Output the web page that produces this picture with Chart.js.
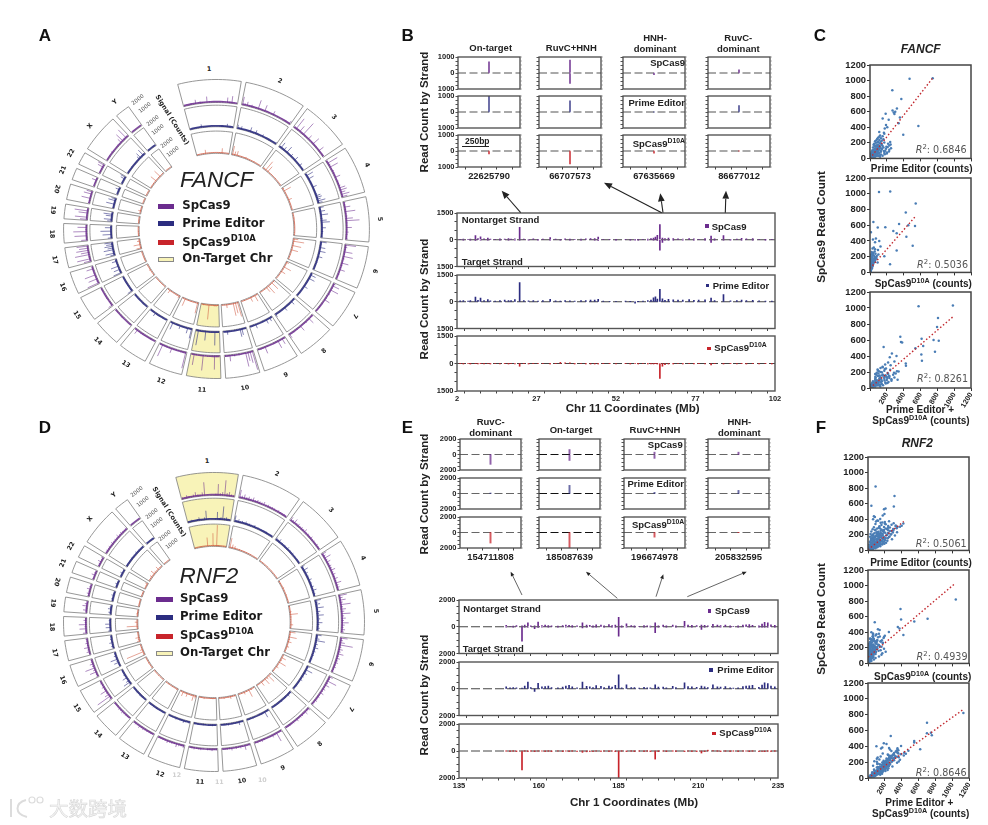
<!DOCTYPE html>
<html>
<head>
<meta charset="utf-8">
<title>FANCF and RNF2 off-target panels</title>
<script src="https://cdn.jsdelivr.net/npm/chart.js@4"></script>
<style>
  html, body { margin: 0; background: #fff; }
  #page { position: relative; width: 988px; height: 825px; overflow: hidden; background: #fff; }
  #page canvas, #page svg { position: absolute; }
  .t { position: absolute; white-space: nowrap; font-family: "Liberation Sans", Arial, sans-serif; color: #222; line-height: 1; }
  .t sup { font-size: .72em; line-height: 0; }
</style>
</head>
<body>
<div id="page"></div>
<script>
// chromosomes, sizes in Mb
const chromNames = ['1','2','3','4','5','6','7','8','9','10','11','12','13','14','15','16','17','18','19','20','21','22','X','Y'];
const chromSizes = [249,243,198,191,181,171,159,146,141,135,135,133,115,107,102,90,81,78,59,63,48,51,155,59];

// circos signal per chromosome (counts, evenly spread along the chromosome)
const fancfSp = [
  [90,130,70,150,70,420,100,190,120,80,600,150,40,0,0,0,0,130,100,520,140,700,120,90],
  [800,210,420,120,240,110,160,900,130,100,650,130,140,90,420,100,150,80,130,90,150,70,380],
  [180,1250,160,700,130,1450,120,110,500,100,130,800,110,150,90,600,80,120,100],
  [130,1100,210,880,150,220,180,140,560,120,190,160,220,620,700,480,820,560],
  [220,160,600,180,1000,140,210,700,1300,190,150,560,140,260,170,120,210],
  [1050,260,190,820,150,950,210,120,700,190,140,560,130,180,110,150],
  [240,720,170,850,130,210,110,190,600,100,150,120,170,110,140],
  [170,120,650,110,210,140,100,600,120,170,80,150,110,480],
  [150,620,110,800,100,120,0,0,110,720,160,190,120],
  [1900,1150,900,1400,120,110,170,100,210,110,620,120,170],
  [110,160,1350,110,130,170,100,1500,120,110,140,1100,110],
  [1600,120,170,110,100,160,520,110,140,120,1250,120],
  [70,50,130,80,100,150,130,170,120,500,130],
  [30,40,50,60,90,130,100,80,130,110],
  [480,120,150,100,170,120,150,80,120,70],
  [1200,170,900,120,1100,150,120,700,100],
  [700,1300,200,1400,800,1200,900,1100],
  [600,90,1200,150,1300,170,900,120],
  [700,1200,170,900,1300,120],
  [190,120,900,150,800,600],
  [40,0,120,500,150],
  [40,80,170,600,700],
  [80,100,150,70,210,120,100,150,170,120,500,900,150,1100,120],
  [60,40]
];
const fancfPe = [
  [90,110,70,130,90,70,350,100,80,130,110,60,30,0,0,0,100,120,90,130,350,110,130,100],
  [420,130,350,110,130,90,110,520,100,90,420,100,80,70,280,90,100,70,90,80,100,60,260],
  [130,700,110,450,110,800,100,90,350,80,110,500,90,110,80,400,70,90,80],
  [120,800,170,650,130,170,150,130,500,110,160,130,190,520,600,420,850,500],
  [500,130,560,170,800,130,190,600,900,160,130,480,130,220,150,110,180],
  [650,190,160,600,130,700,170,110,520,170,130,190,120,150,100,130],
  [180,620,140,700,120,170,100,160,480,90,130,110,150,100,130],
  [130,110,480,100,170,130,90,450,110,140,80,130,100,380],
  [130,450,100,500,90,110,0,0,90,480,130,140,110],
  [150,120,700,850,110,100,150,90,160,100,420,110,140],
  [110,140,1450,100,120,160,90,1000,120,100,130,1600,110],
  [1050,130,620,100,90,140,420,110,130,120,800,120],
  [100,70,150,90,110,170,130,450,120,130,130],
  [40,50,70,80,100,130,110,80,120,100],
  [600,130,160,110,170,120,140,90,120,80],
  [900,150,700,120,850,130,120,550,100],
  [500,950,170,1050,620,900,700,850],
  [450,70,950,130,1150,150,700,110],
  [500,850,130,700,950,110],
  [160,120,900,130,780,520],
  [50,0,120,450,130],
  [40,70,150,500,620],
  [70,90,130,60,160,110,90,130,140,100,400,650,130,780,110],
  [50,30]
];
const fancfD10a = [
  [60,40,80,50,420,60,40,0,0,0,50,70,520,60,40,80],
  [900,400,500,80,120,60,200,80,60,50,120,60,80,50],
  [150,1100,700,80,60,50,120,60,40,80],
  [200,800,100,60,120,400,80,60,50,90],
  [60,40,120,50,80,40,60,50,90,40],
  [500,1100,80,900,60,700,50,80,40,60],
  [300,80,800,120,500,60,80,40],
  [200,900,120,1000,600,80,60,50],
  [150,700,80,500,60,40,120,50],
  [1500,1100,1300,80,60,400,60,50],
  [120,200,180,60,80,1500,100,60,160,50],
  [1100,80,60,120,90,60,800,50],
  [300,120,80,60,100,400,60],
  [80,120,60,90,50,60],
  [100,60,200,50,80],
  [60,120,80,40,100],
  [500,80,700,100,300,60],
  [100,60,120,40,80],
  [50,80,30,60],
  [40,300,60,80],
  [30,50,40],
  [40,30,60],
  [80,60,120,50,700,60,80,800,60,40],
  [20]
];
const rnf2Sp = [
  [200,150,300,170,120,250,450,200,150,350,1300,90,0,0,0,180,1100,240,350,1500,300,420,220,180],
  [800,280,450,250,350,220,400,200,300,240,210,350,180,260,170,230,200,150,240,170,140,200,120],
  [420,250,500,210,320,170,260,210,400,190,240,180,300,170,210,140,240,170,140],
  [500,280,700,230,430,210,300,250,500,220,340,210,400,190,600,250,300,190],
  [800,350,600,280,1000,250,500,320,900,280,430,250,700,320,220,380,280],
  [700,280,500,1300,250,430,280,600,220,380,250,320,190,280,170,220],
  [400,220,1000,250,500,190,320,220,400,170,250,190,300,170,220],
  [300,190,400,170,250,220,170,320,150,220,170,190,140,170],
  [220,170,950,190,300,140,0,0,170,250,190,220,170],
  [190,140,500,170,250,150,220,140,300,170,190,150,170],
  [170,140,250,150,190,0,140,220,170,150,230,170,140],
  [300,190,250,400,170,220,190,300,170,190,150,170],
  [170,190,140,220,170,250,190,300,170,220,190],
  [110,170,190,220,300,190,250,170,140,170],
  [300,1500,500,220,700,190,300,170,220,140],
  [220,190,700,300,1000,250,400,220,190],
  [170,350,220,500,190,300,170,220],
  [400,170,700,220,750,190,300,170],
  [140,400,190,500,300,170],
  [170,300,190,400,220,170],
  [170,110,400,220,170],
  [140,220,400,170,300],
  [170,220,190,250,170,300,190,230,170,350,220,280,190,170,250],
  [80,40]
];
const rnf2Pe = [
  [170,110,230,140,100,200,350,170,120,280,950,70,0,0,0,140,800,190,280,1400,240,320,180,140],
  [650,230,350,200,280,170,320,160,240,190,170,280,140,200,140,180,160,120,190,140,110,160,100],
  [320,200,400,170,250,140,200,170,320,150,190,140,240,130,170,110,190,140,110],
  [400,220,560,190,340,170,240,200,400,180,270,170,320,150,480,200,240,150],
  [640,280,480,220,800,200,400,250,720,220,340,200,560,250,170,300,220],
  [560,220,400,1000,200,340,220,480,170,300,200,250,150,220,140,170],
  [320,170,800,200,400,150,250,170,320,140,200,150,240,130,170],
  [240,150,320,130,200,170,130,250,120,170,130,150,110,130],
  [170,130,700,150,240,110,0,0,130,200,150,170,130],
  [150,110,400,130,200,120,170,110,240,130,150,120,130],
  [130,110,200,120,150,0,110,170,130,120,190,130,110],
  [240,150,200,320,130,170,150,240,130,150,120,130],
  [130,150,110,170,130,200,150,240,130,170,150],
  [90,130,150,170,240,150,200,130,110,130],
  [240,800,400,170,560,150,240,130,170,110],
  [170,150,560,240,800,200,320,170,150],
  [130,280,170,400,150,240,130,170],
  [320,130,560,170,600,150,240,130],
  [110,320,150,400,240,130],
  [130,240,150,320,170,130],
  [130,90,320,170,130],
  [110,170,320,130,240],
  [130,170,150,200,130,240,150,180,130,280,170,220,150,130,200],
  [60,30]
];
const rnf2D10a = [
  [60,80,50,100,60,80,40,900,0,0,1300,60,2100,120,80,60,100,50],
  [1000,400,300,100,150,80,120,100,80,120,60,80,50],
  [100,80,60,120,50,80,60,40,70],
  [150,120,80,200,100,60,140,80,100,60],
  [120,80,200,800,150,100,80,300,100],
  [600,150,800,200,400,100,300,120,80],
  [100,500,200,800,120,300,80,100],
  [150,850,300,700,120,500,80,100],
  [100,200,800,150,300,100,80],
  [150,100,300,120,80,200,100,60],
  [100,150,120,80,100,200,120,100],
  [300,600,150,100,400,120,500,80],
  [200,100,150,80,120,100],
  [100,80,120,60,90],
  [120,80,150,100,60],
  [200,1800,300,120,100],
  [300,200,400,120,80,100],
  [80,1100,100,300,60],
  [80,200,100,60],
  [60,100,80,120],
  [100,60,120],
  [80,120,300],
  [100,150,300,120,500,200,100,400,150,120],
  [30]
];

// chr 11 track (panel B)
const chr11Mb = [3,4,5.5,6.2,7.8,8.6,9.4,10.5,11.7,12.5,
  14,15.5,17,18.2,19,20.2,21.7,23,24.5,26,
  27.5,29,31.3,33,34.5,36,37.5,39,41,42.5,
  44,45.3,46.4,48,50,52,55,56.5,58,59,
  60.5,62,63,63.8,64.4,65,65.8,66.6,67.4,68.5,
  70,71.5,73,75,76.5,78,80,81.9,83,85.8,
  88,90,91.5,93,95,97,99,101];
const chr11Sp = [30,40,30,40,230,60,170,50,100,40,
  30,50,40,60,40,50,700,40,30,50,
  30,40,120,40,30,50,40,30,40,50,
  70,60,150,30,0,20,30,0,20,0,
  30,40,60,100,150,250,850,100,60,90,
  60,50,40,70,50,30,60,200,50,230,
  30,40,80,50,60,30,20,30];
const chr11SpNeg = [0,-20,0,-30,-40,0,-30,0,-20,0,
  0,-15,0,-20,0,-15,-30,0,-15,0,
  -10,0,-20,0,-15,0,-10,0,-15,0,
  0,-20,-40,0,0,-10,0,-10,-15,-10,
  0,-10,0,-20,0,-40,-590,-150,-30,-20,
  -10,0,-15,0,-20,0,-10,-150,-10,-15,
  -10,0,-20,0,-15,0,-10,0];
const chr11Pe = [50,60,40,70,260,80,200,60,120,50,
  40,60,90,70,60,120,1080,60,50,70,
  40,60,130,50,40,70,50,40,60,70,
  90,100,130,40,0,30,40,10,-80,10,
  40,60,90,220,280,150,700,160,80,130,
  110,90,100,120,80,90,110,200,70,400,
  50,60,100,70,80,50,40,40];
const chr11D10a = [0,-20,0,-15,0,-20,0,-10,0,-15,
  0,-15,0,-10,0,-20,-150,0,-15,0,
  0,0,-10,0,60,40,30,-10,0,-15,
  -30,-15,-20,0,0,-15,0,-10,0,-5,
  0,-15,-10,-20,0,-30,-810,-150,-60,-30,
  -10,0,-15,0,-10,0,-15,-80,0,-20,
  0,-15,0,-10,0,-15,0,-10];

// chr 1 track (panel E)
const chr1Mb = [149.8,151,152,153,154.75,155.6,156.6,157.5,158.7,159.8,
  161,162,163,164,166,167.5,168.5,169.5,170.5,172,
  173.7,175,176,177,178,179.5,180.5,182,183,184,
  185.05,186,187.5,189,190,191.5,193,194,195,196.5,
  197.5,199,200,202,203,205.7,206.8,208,209.5,211,
  212,213,214.6,216,217,218.5,220,221,222.5,224,
  225,226,227,229,230,230.8,231.8,232.8,234];
const chr1Sp = [100,40,50,80,60,120,300,70,60,350,
  90,120,80,70,50,90,120,100,80,60,
  300,130,100,60,150,120,70,160,80,120,
  700,60,220,80,70,40,90,60,50,300,
  70,120,60,130,70,400,120,100,80,130,
  100,60,180,120,90,120,60,40,60,130,
  140,170,100,60,200,330,300,150,100];
const chr1SpNeg = [-30,0,-15,0,-1080,-30,-40,0,-150,-50,
  -20,0,-15,0,-10,0,-20,0,-15,0,
  -80,-20,0,-15,-10,0,-20,0,-15,-20,
  -700,-15,-30,0,-15,0,-20,0,-15,-450,
  -20,0,-15,0,-20,-30,0,-15,0,-200,
  -30,0,-20,0,-15,0,-10,0,-15,0,
  0,-15,0,-10,-15,-30,-20,0,-15];
const chr1Pe = [150,60,90,60,50,200,500,90,-200,400,
  150,170,200,80,70,130,200,250,150,60,
  500,180,150,90,230,180,90,200,130,250,
  1050,60,300,80,90,50,110,60,60,300,
  120,130,70,180,90,450,170,150,110,200,
  150,80,300,150,130,170,70,50,70,170,
  200,220,250,100,280,450,380,200,150];
const chr1D10a = [0,-10,0,-10,-1400,0,-15,0,-10,0,
  0,-10,0,-10,0,-15,0,-10,0,-20,
  -100,-60,-30,-20,0,-15,0,-10,0,-20,
  -2000,0,-15,0,-10,0,-15,0,-10,-600,
  -10,0,-15,0,-10,-20,0,-10,-15,-150,
  -30,60,40,0,-15,0,-10,0,-10,0,
  0,-15,0,-30,-40,-20,0,-10,0];

// per-site read counts in the small panels: [top strand, bottom strand], rows SpCas9, PE, D10A
const fancfSites = ['22625790','66707573','67635669','86677012'];
const fancfSiteTitles = [['On-target'],['RuvC+HNH'],['HNH-','dominant'],['RuvC-','dominant']];
const fancfSiteSp = [[700,0],[800,-650],[0,-100],[200,0]];
const fancfSitePe = [[1000,0],[700,0],[0,0],[400,0]];
const fancfSiteD10a = [[0,-180],[0,-800],[0,-130],[0,0]];
const rnf2Sites = ['154711808','185087639','196674978','205832595'];
const rnf2SiteTitles = [['RuvC-','dominant'],['On-target'],['RuvC+HNH'],['HNH-','dominant']];
const rnf2SiteSp = [[0,-1270],[640,-770],[300,-500],[300,0]];
const rnf2SitePe = [[50,0],[1050,0],[150,0],[400,0]];
const rnf2SiteD10a = [[0,-1360],[0,-2000],[0,-600],[0,0]];

// scatter counts, SpCas9 shared between the three plots of a panel
const fancfScatterSp = [1030,1022,875,762,640,615,600,590,575,570,
  525,512,498,452,430,418,400,385,340,330,
  318,305,295,285,277,265,258,250,245,238,
  232,228,220,215,210,205,200,196,190,186,
  180,175,170,166,160,155,150,146,140,135,
  130,126,120,115,110,105,103,96,92,88,
  84,80,76,72,68,64,60,56,52,48,
  45,42,38,35,32,28,25,22,18,15,
  12,8,5,90,70,50,40,130,180,100,
  210,30,20,62,148,
  20,35,55,75,95,110,125,60,40,30,
  85,150,165,190,115,70,45,25,15,10,
  50,65,80,100,120,140,160,35,55,75,
  95,115,135,155,175];
const fancfScatterPe = [745,470,265,372,320,268,300,282,186,290,
  355,150,222,340,190,575,205,175,110,165,
  170,395,120,150,110,95,130,85,160,110,
  75,140,60,125,95,170,70,115,50,135,
  88,42,102,68,150,55,80,120,35,98,
  62,140,72,45,105,28,90,60,38,82,
  20,55,95,30,48,15,40,70,25,12,
  35,55,18,8,28,14,42,6,20,10,
  3,5,1,225,170,130,115,250,245,180,
  240,80,60,200,210,
  120,150,175,200,165,230,190,95,70,100,
  130,195,230,215,140,110,85,50,35,25,
  60,75,100,125,105,160,115,22,30,50,
  70,85,120,90,140];
const fancfScatterD10a = [240,107,543,425,40,345,455,535,182,92,
  277,12,317,432,70,35,110,60,507,125,
  45,30,60,95,317,55,20,40,30,65,
  15,100,35,45,10,170,55,25,30,75,
  12,20,48,8,35,60,15,55,28,22,
  5,90,40,18,10,35,238,12,25,6,
  15,30,4,8,20,10,3,25,14,6,
  2,18,9,4,12,1,7,10,3,0,
  5,2,0,30,12,10,5,40,60,20,
  80,3,2,8,16,
  2,5,12,20,8,25,15,5,3,8,
  10,35,45,70,30,20,10,0,1,0,
  2,8,15,12,22,38,40,5,6,14,
  18,35,50,55,75];
const fancfScatterBoth = [985,577,808,797,360,613,755,817,368,382,
  632,162,539,772,260,610,315,235,617,290,
  215,425,180,245,427,150,150,125,190,175,
  90,240,95,170,105,340,125,140,80,210,
  100,62,150,76,185,115,95,175,63,120,
  67,230,112,63,115,63,328,72,63,88,
  35,85,99,38,68,25,43,95,39,18,
  37,73,27,12,40,15,49,16,23,10,
  8,7,1,255,182,140,120,290,305,200,
  320,83,62,208,226,
  122,155,187,220,173,255,205,100,73,108,
  140,230,275,285,170,130,95,50,36,25,
  62,83,115,137,127,198,155,27,36,64,
  88,120,170,145,215];
const rnf2ScatterSp = [820,698,573,565,540,530,468,447,440,428,
  405,400,385,364,340,380,372,360,350,345,
  335,325,318,310,305,298,290,285,280,272,
  268,262,258,252,248,242,238,232,228,222,
  218,212,208,204,200,196,192,188,184,180,
  176,172,168,164,160,156,152,148,144,140,
  136,132,128,124,120,116,112,108,104,100,
  97,94,90,87,84,81,78,75,72,69,
  66,63,60,57,54,51,48,45,42,39,
  36,33,30,27,24,21,18,15,12,9,
  6,3,245,235,225,215,205,195,185,175,
  165,155,145,135,125,115,105,95,85,75,
  65,55,45,35,290,275,265,255,320,300,
  10,15,20,25,30,35,40,45,50,55,
  60,65,70,75,80,85,90,95,100,105,
  110,115,120,125,130,135,140,145,150,155,
  160,165,170,175,180,185,190,195,200,205,
  210,215,220,225,230,235,240,250,255,260,
  270,275,280,285,295,300,310,315,330,345,
  355,375,30,50,70,90,110,130,150,170,190];
const rnf2ScatterPe = [90,315,40,307,208,190,195,175,70,82,
  145,60,110,200,88,120,95,170,305,420,
  210,160,400,135,380,70,240,340,110,55,
  300,190,85,150,260,40,125,345,205,75,
  160,30,275,115,225,60,320,140,95,185,
  25,250,130,70,210,45,165,105,285,80,
  195,35,145,230,65,120,175,22,90,215,
  50,150,110,195,30,75,135,170,15,60,
  100,125,40,85,145,18,55,95,110,30,
  70,10,48,88,22,35,60,8,25,40,
  5,12,180,100,240,130,55,170,120,85,
  155,200,120,70,100,145,130,75,100,45,
  80,120,65,20,130,225,90,300,330,350,
  20,30,50,15,70,45,90,30,110,65,
  130,40,95,150,60,120,175,90,140,50,
  190,75,165,110,205,140,60,180,100,235,
  130,80,195,120,255,160,90,220,140,270,
  175,105,240,150,295,190,120,280,170,240,
  160,300,210,140,260,190,330,240,280,200,
  150,250,12,25,35,40,30,50,35,60,45];
const rnf2ScatterD10a = [1043,386,708,393,550,80,354,374,118,138,
  248,40,60,420,190,130,60,90,55,60,
  120,185,30,40,70,165,60,85,150,95,
  45,175,30,100,20,65,130,35,50,140,
  25,45,90,80,15,110,25,55,20,75,
  85,10,40,125,30,15,60,95,5,35,
  20,70,45,12,90,8,30,50,60,18,
  25,5,40,12,65,15,28,3,35,10,
  50,2,20,8,22,30,5,15,35,2,
  10,20,6,1,12,4,14,3,6,0,
  2,1,40,35,70,160,50,8,100,55,
  15,45,25,55,70,15,30,40,18,48,
  25,10,30,28,110,30,175,15,25,40,
  8,5,10,20,12,25,8,30,10,15,
  6,35,20,5,40,15,8,25,20,60,
  10,45,20,30,5,25,80,30,65,10,
  40,85,15,60,8,30,100,20,70,12,
  40,110,25,80,10,50,120,20,90,35,
  100,25,75,150,50,110,30,70,60,140,
  200,100,40,70,90,130,160,170,210,150,190];
const rnf2ScatterBoth = [1133,701,748,700,758,270,549,549,188,220,
  393,100,170,620,278,250,155,260,360,480,
  330,345,430,175,450,235,300,425,260,150,
  345,365,115,250,280,105,255,380,255,215,
  185,75,365,195,240,170,345,195,115,260,
  110,260,170,195,240,60,225,200,290,115,
  215,105,190,242,155,128,205,72,150,233,
  75,155,150,207,95,90,163,173,50,70,
  150,127,60,93,167,48,60,110,145,32,
  80,30,54,89,34,39,74,11,31,40,
  7,13,220,135,310,290,105,178,220,140,
  170,245,145,125,170,160,160,115,118,93,
  105,130,95,48,240,255,265,315,355,390,
  28,35,60,35,82,70,98,60,120,80,
  136,75,115,155,100,135,183,115,160,110,
  200,120,185,140,210,165,140,210,165,245,
  170,165,210,180,263,190,190,240,210,282,
  215,215,265,230,305,240,240,300,260,275,
  260,325,285,290,310,300,360,310,340,340,
  350,350,52,95,125,170,190,220,245,210,235];

// regression lines, [start, end]
const fancfFitPeX = [0,745], fancfFitPeY = [0,1033];
const fancfFitD10aX = [0,543], fancfFitD10aY = [50,716];
const fancfFitBothX = [0,982], fancfFitBothY = [0,887];
const rnf2FitPeX = [0,425], rnf2FitPeY = [10,372];
const rnf2FitD10aX = [0,1031], rnf2FitD10aY = [80,1024];
const rnf2FitBothX = [0,1121], rnf2FitBothY = [0,857];

const PURPLE = '#6b2c8e', NAVY = '#2c2d80', RED = '#c8242b', YELLOW = '#f8f3b8';
const RING_MAX = 2200;
const D10A = 'SpCas9<sup>D10A</sup>';
// a dash with no gap keeps the line solid but stops Chart.js merging near-vertical runs
const SOLID = [2000, 0];

Chart.defaults.animation = false;
Chart.defaults.responsive = false;
Chart.defaults.events = [];
Chart.defaults.font.family = '"Liberation Sans", Arial, sans-serif';
Chart.defaults.plugins.legend.display = false;
Chart.defaults.plugins.tooltip.enabled = false;

const page = document.getElementById('page');

function txt(html, x, y, o = {}) {
  const el = document.createElement('div');
  el.className = 't';
  el.innerHTML = html;
  const ax = o.align === 'l' ? '0' : o.align === 'r' ? '-100%' : '-50%';
  el.style.left = x + 'px';
  el.style.top = y + 'px';
  el.style.transform = `translate(${ax},-50%) rotate(${o.rot || 0}deg)`;
  el.style.fontSize = (o.size || 9.5) + 'px';
  el.style.fontWeight = o.weight || 'bold';
  if (o.family) el.style.fontFamily = o.family;
  if (o.color) el.style.color = o.color;
  if (o.italic) el.style.fontStyle = 'italic';
  if (o.stroke) el.style.webkitTextStroke = o.stroke;
  page.appendChild(el);
  return el;
}

function swatch(x, y, w, h, color, border) {
  const el = document.createElement('div');
  el.style.cssText = `position:absolute;left:${x}px;top:${y}px;width:${w}px;height:${h}px;background:${color};` +
    (border ? `box-sizing:border-box;border:1px solid ${border};` : '');
  page.appendChild(el);
}

function addCanvas(x, y, w, h) {
  const c = document.createElement('canvas');
  c.width = w;
  c.height = h;
  c.style.left = x + 'px';
  c.style.top = y + 'px';
  page.appendChild(c);
  return c;
}

// box round the plot, with optional mirrored y ticks on the right
function boxPlugin(color, width, mirror) {
  return {
    id: 'box',
    afterDraw(chart) {
      const { ctx, chartArea: a, scales } = chart;
      ctx.save();
      ctx.strokeStyle = color;
      ctx.lineWidth = width;
      ctx.strokeRect(a.left, a.top, a.right - a.left, a.bottom - a.top);
      if (mirror) {
        ctx.lineWidth = 0.7;
        ctx.strokeStyle = '#777';
        ctx.beginPath();
        scales.y.ticks.forEach(t => {
          const py = scales.y.getPixelForValue(t.value);
          ctx.moveTo(a.right, py);
          ctx.lineTo(a.right + 1.8, py);
        });
        ctx.stroke();
      }
      ctx.restore();
    }
  };
}

// canvas placed so that the plot area lands on rect
function plotChart(rect, axisW, axisH, config) {
  const top = 8, right = 14;
  const c = addCanvas(rect.x - axisW, rect.y - top, rect.w + axisW + right, rect.h + top + axisH);
  config.options.layout = { padding: { top, right, left: 0, bottom: 0 } };
  config.options.scales.y.afterFit = s => { s.width = axisW; };
  config.options.scales.x.afterFit = s => { s.height = axisH; };
  return new Chart(c, config);
}

function tickFont(size) {
  return { size, weight: 'bold' };
}

// ---- circos ----
const K = 0.0965, GAP = 1.8, START = -14.7;
const sectors = [];
{
  let a = START;
  chromSizes.forEach(s => {
    sectors.push([a, a + s * K]);
    a += s * K + GAP;
  });
}
const RINGS = [[0.846, 1], [0.684, 0.828], [0.506, 0.655]];

function polar(a, r) {
  const d = a * Math.PI / 180;
  return { x: r * Math.sin(d), y: r * Math.cos(d) };
}

function arcPoints(a0, a1, r) {
  const pts = [], n = Math.max(3, Math.ceil((a1 - a0) / 1.5));
  for (let i = 0; i <= n; i++) pts.push(polar(a0 + (a1 - a0) * i / n, r));
  return pts;
}

function sectorPath(i, ring) {
  const [a0, a1] = sectors[i];
  const [r0, r1] = RINGS[ring];
  const pts = arcPoints(a0, a1, r1).concat(arcPoints(a0, a1, r0).reverse());
  pts.push(pts[0]);
  return pts;
}

function spikes(lists, ring) {
  const [r0, r1] = RINGS[ring];
  const pts = [];
  lists.forEach((vals, i) => {
    const [a0, a1] = sectors[i];
    vals.forEach((v, j) => {
      const a = a0 + (a1 - a0) * (j + 0.5) / vals.length;
      pts.push(polar(a, r0), polar(a, r0 + (r1 - r0) * Math.min(v, RING_MAX) / RING_MAX), { x: polar(a, r0).x, y: null });
    });
  });
  return pts;
}

function baseline(ring) {
  const pts = [];
  sectors.forEach(([a0, a1]) => {
    pts.push(...arcPoints(a0 + 0.3, a1 - 0.3, RINGS[ring][0] + 0.006));
    pts.push({ x: 0, y: null });
  });
  return pts;
}

function circos(cx, cy, rx, ry, lists, highlight) {
  const S = 1.03;
  const c = addCanvas(cx - rx * S, cy - ry * S, 2 * rx * S, 2 * ry * S);
  const outline = [];
  for (let i = 0; i < sectors.length; i++) {
    for (let r = 0; r < 3; r++) outline.push(...sectorPath(i, r), { x: 0, y: null });
  }
  const ringColors = ['rgba(107,44,142,.85)', 'rgba(44,45,128,.9)', 'rgba(205,80,55,.8)'];
  const baseWidth = [1.6, 1.8, 0.9];
  const datasets = [];
  lists.forEach((l, r) => {
    datasets.push({ data: spikes(l, r), borderColor: ringColors[r], borderWidth: 0.65, borderDash: SOLID, pointRadius: 0, spanGaps: false, clip: false, order: 1 });
    datasets.push({ data: baseline(r), borderColor: ringColors[r], borderWidth: baseWidth[r], borderDash: SOLID, pointRadius: 0, spanGaps: false, clip: false, order: 1 });
  });
  datasets.push({ data: outline, borderColor: '#7c7c7c', borderWidth: 0.8, borderDash: SOLID, pointRadius: 0, spanGaps: false, clip: false, order: 2 });
  for (let r = 0; r < 3; r++) {
    datasets.push({ data: sectorPath(highlight, r), borderWidth: 0, borderDash: SOLID, pointRadius: 0, fill: 'shape', backgroundColor: YELLOW, order: 3 });
  }
  new Chart(c, {
    type: 'line',
    data: { datasets },
    options: {
      layout: { padding: 0 },
      scales: {
        x: { type: 'linear', display: false, min: -S, max: S },
        y: { type: 'linear', display: false, min: -S, max: S }
      }
    }
  });
  chromNames.forEach((name, i) => {
    const a = (sectors[i][0] + sectors[i][1]) / 2, p = polar(a, 1.075);
    const w = a < 0 ? a + 360 : a;
    const rot = w < 125 ? w : w < 285 ? w - 180 : w - 360;
    txt(name, cx + p.x * rx, cy - p.y * ry, { size: 6.3, rot, family: '"DejaVu Sans"', color: '#222' });
  });
}

function circosLegend(sx, tx, ys) {
  const rows = [['SpCas9', PURPLE], ['Prime Editor', NAVY], [D10A, RED], ['On-Target Chr', YELLOW]];
  rows.forEach(([label, color], i) => {
    swatch(sx, ys[i] - 2.5, 16.5, 5, color, i === 3 ? '#888' : null);
    txt(label, tx, ys[i], { align: 'l', size: 11.7, family: '"DejaVu Sans"', color: '#1a1a1a' });
  });
}

circos(216.3, 229.3, 153, 149.7, [fancfSp, fancfPe, fancfD10a], 10);
txt('FANCF', 216.7, 180, { size: 22.5, weight: 'normal', italic: true, color: '#222' });
circosLegend(157.7, 182.3, [206, 223.7, 242.7, 259.3]);
[['2000', 138.3, 100], ['1000', 145, 108.3], ['2000', 152.7, 120.7], ['1000', 158.3, 130], ['2000', 167, 143.3], ['1000', 173.3, 151.7]]
  .forEach(([s, x, y]) => txt(s, x, y, { size: 5.5, rot: -38, weight: 'normal', family: '"DejaVu Sans"', color: '#555' }));
txt('Signal (Counts)', 171.7, 120, { size: 6.6, rot: 58, family: '"DejaVu Sans"' });

circos(214.2, 622, 150.8, 149.7, [rnf2Sp, rnf2Pe, rnf2D10a], 0);
txt('RNF2', 209, 576, { size: 22.5, weight: 'normal', italic: true, color: '#222' });
circosLegend(156, 180, [599, 617.3, 636, 653.3]);
[['2000', 137.3, 491.7], ['1000', 143.3, 501.7], ['2000', 151.7, 514.3], ['1000', 156.7, 523.3], ['2000', 165, 535.7], ['1000', 171.7, 544]]
  .forEach(([s, x, y]) => txt(s, x, y, { size: 5.5, rot: -38, weight: 'normal', family: '"DejaVu Sans"', color: '#555' }));
txt('Signal (Counts)', 169.3, 511.7, { size: 6.6, rot: 58, family: '"DejaVu Sans"' });
[['12', 176.7, 775], ['11', 219.3, 782.3], ['10', 262.3, 780]]
  .forEach(([s, x, y]) => txt(s, x, y, { size: 6.3, family: '"DejaVu Sans"', color: '#cfcfcf' }));

// ---- small site panels ----
function sitePanel(rect, vals, limit, step, color, dash, label, showX, showY) {
  const spanX = 290, tickX = 145;
  const datasets = [
    { type: 'bar', data: [{ x: 0, y: vals[0] }], backgroundColor: color, barThickness: 1.3, order: 1 },
    { type: 'bar', data: [{ x: 0, y: vals[1] }], backgroundColor: color, barThickness: 1.3, order: 1 },
    { type: 'line', data: [{ x: -spanX, y: 0 }, { x: spanX, y: 0 }], borderColor: dash, borderWidth: 1.1, borderDash: [8, 3.5], pointRadius: 0, order: 2 }
  ];
  plotChart(rect, 26, 12, {
    type: 'bar',
    data: { datasets },
    options: {
      datasets: { bar: { grouped: false } },
      scales: {
        x: {
          type: 'linear', min: -spanX, max: spanX, offset: false,
          border: { display: false },
          grid: { drawOnChartArea: false, drawTicks: showX, tickLength: 2.5, color: '#444' },
          ticks: { stepSize: tickX, autoSkip: false, maxRotation: 0, padding: 1, font: tickFont(9.4), color: '#222', callback: v => (showX && v === 0 ? label : '') }
        },
        y: {
          min: -limit, max: limit,
          border: { display: false },
          grid: { drawOnChartArea: false, tickLength: 2.5, color: '#555' },
          ticks: { stepSize: step, autoSkip: false, padding: 1, font: tickFont(7.5), color: '#222', callback: v => (showY && v % limit === 0 ? String(Math.abs(v)) : '') }
        }
      }
    },
    plugins: [boxPlugin('#4a4a4a', 1.3, true)]
  });
}

function siteGrid(colsX, colW, rowsY, rowsH, limit, step, labels, sp, pe, d10a, dashFor) {
  colsX.forEach((x, c) => {
    const rows = [sp[c], pe[c], d10a[c]];
    const colors = ['rgba(107,44,142,.75)', 'rgba(44,45,128,.7)', 'rgba(200,36,43,.75)'];
    rows.forEach((v, r) => {
      const rect = { x, y: rowsY[r], w: colW, h: rowsH };
      sitePanel(rect, v, limit, step, colors[r], dashFor(c), labels[c], r === 2, c === 0);
    });
  });
}

siteGrid([458.3, 539.3, 623.3, 708.3], 62, [56.7, 95.6, 135.3], 32.5, 1000, 250,
  fancfSites, fancfSiteSp, fancfSitePe, fancfSiteD10a, () => '#555');
siteGrid([460, 539.3, 624, 708.3], 61.5, [439.3, 477.7, 516.7], 31.6, 2000, 500,
  rnf2Sites, rnf2SiteSp, rnf2SitePe, rnf2SiteD10a, c => (c === 1 ? '#111' : '#666'));

fancfSiteTitles.forEach((lines, i) => {
  const x = [490.7, 571.3, 655, 738.3][i];
  if (lines.length === 1) txt(lines[0], x, 47.7);
  else { txt(lines[0], x, 37.5); txt(lines[1], x, 49.3); }
});
rnf2SiteTitles.forEach((lines, i) => {
  const x = [490.7, 571, 655, 739.3][i];
  if (lines.length === 1) txt(lines[0], x, 430);
  else { txt(lines[0], x, 421.7); txt(lines[1], x, 433); }
});

txt('SpCas9', 685, 63.3, { align: 'r' });
txt('Prime Editor', 685, 102.7, { align: 'r' });
txt(D10A, 685, 143.5, { align: 'r' });
txt('250bp', 465, 140.7, { align: 'l', size: 8.5 });
swatch(462, 145.5, 26.7, 0.9, '#222');
txt('SpCas9', 682.7, 445, { align: 'r' });
txt('Prime Editor', 684, 484.3, { align: 'r' });
txt(D10A, 684.3, 524.5, { align: 'r' });

// ---- long strand tracks ----
function track(rect, mb, tops, bottoms, color, xMin, xMax, limit, step, showX) {
  const bars = arr => arr.map((v, i) => ({ x: mb[i], y: v }));
  const datasets = [
    { type: 'bar', data: bars(tops), backgroundColor: color, barThickness: 1, order: 1 },
    { type: 'bar', data: bars(bottoms), backgroundColor: color, barThickness: 1, order: 1 },
    { type: 'line', data: [{ x: xMin, y: 0 }, { x: xMax, y: 0 }], borderColor: '#444', borderWidth: 1, borderDash: [9, 3], pointRadius: 0, order: 2 }
  ];
  plotChart(rect, 26, showX ? 12 : 5, {
    type: 'bar',
    data: { datasets },
    options: {
      datasets: { bar: { grouped: false } },
      scales: {
        x: {
          type: 'linear', min: xMin, max: xMax, offset: false,
          border: { display: false },
          grid: { drawOnChartArea: false, tickLength: 2.5, color: '#444' },
          ticks: { stepSize: 5, autoSkip: false, maxRotation: 0, padding: 1, font: tickFont(7.5), color: '#222', callback: v => (showX && (v - xMin) % 25 === 0 ? String(v) : '') }
        },
        y: {
          min: -limit, max: limit,
          border: { display: false },
          grid: { drawOnChartArea: false, tickLength: 2.5, color: '#444' },
          ticks: { stepSize: step, autoSkip: false, padding: 1, font: tickFont(7.5), color: '#222', callback: v => (v % limit === 0 ? String(Math.abs(v)) : '') }
        }
      }
    },
    plugins: [boxPlugin('#555', 1.4, false)]
  });
}

const zeros11 = chr11Mb.map(() => 0), zeros1 = chr1Mb.map(() => 0);
track({ x: 457.3, y: 213.3, w: 318.4, h: 54.4 }, chr11Mb, chr11Sp, chr11SpNeg, PURPLE, 2, 102, 1500, 500, false);
track({ x: 457.3, y: 274.7, w: 318.4, h: 54.6 }, chr11Mb, chr11Pe, zeros11, NAVY, 2, 102, 1500, 500, false);
track({ x: 457.3, y: 336.3, w: 318.4, h: 55.4 }, chr11Mb, chr11D10a, zeros11, RED, 2, 102, 1500, 500, true);
track({ x: 459.3, y: 600, w: 319, h: 54.3 }, chr1Mb, chr1Sp, chr1SpNeg, PURPLE, 135, 235, 2000, 500, false);
track({ x: 459.3, y: 662.3, w: 319, h: 54.4 }, chr1Mb, chr1Pe, zeros1, NAVY, 135, 235, 2000, 500, false);
track({ x: 459.3, y: 724.3, w: 319, h: 54.7 }, chr1Mb, chr1D10a, zeros1, RED, 135, 235, 2000, 500, true);

txt('Nontarget Strand', 461.7, 220, { align: 'l' });
txt('Target Strand', 461.7, 261.5, { align: 'l' });
swatch(705, 224, 3.6, 3.6, PURPLE);
txt('SpCas9', 711.7, 226.7, { align: 'l' });
swatch(705.5, 283.8, 3.6, 3.6, NAVY);
txt('Prime Editor', 712.7, 285.7, { align: 'l' });
swatch(707, 346.5, 3.6, 3.6, RED);
txt(D10A, 714.3, 347.5, { align: 'l' });
txt('Nontarget Strand', 463.3, 608.7, { align: 'l' });
txt('Target Strand', 462.7, 649.3, { align: 'l' });
swatch(707.5, 609, 3.6, 3.6, PURPLE);
txt('SpCas9', 715, 611, { align: 'l' });
swatch(709, 668.2, 3.6, 3.6, NAVY);
txt('Prime Editor', 717.3, 670.3, { align: 'l' });
swatch(712, 731.5, 3.6, 3.6, RED);
txt(D10A, 719.3, 732.5, { align: 'l' });

txt('Read Count by Strand', 425, 111.7, { size: 11.5, rot: -90 });
txt('Read Count by Strand', 425, 299.3, { size: 11.5, rot: -90 });
txt('Read Count by Strand', 425, 494, { size: 11.5, rot: -90 });
txt('Read Count by Strand', 425, 695, { size: 11.5, rot: -90 });
txt('Chr 11 Coordinates (Mb)', 632.7, 408.3, { size: 11.6 });
txt('Chr 1 Coordinates (Mb)', 634, 801.7, { size: 11.6 });

// ---- annotation arrows and watermark icon ----
const NS = 'http://www.w3.org/2000/svg';
const svg = document.createElementNS(NS, 'svg');
svg.setAttribute('width', 988);
svg.setAttribute('height', 825);
svg.style.left = '0';
svg.style.top = '0';
page.appendChild(svg);

function arrow(x0, y0, x1, y1, width, head) {
  const d = Math.hypot(x1 - x0, y1 - y0), ux = (x1 - x0) / d, uy = (y1 - y0) / d;
  const bx = x1 - ux * head, by = y1 - uy * head, hw = head * 0.42;
  const l = document.createElementNS(NS, 'line');
  l.setAttribute('x1', x0); l.setAttribute('y1', y0); l.setAttribute('x2', bx); l.setAttribute('y2', by);
  l.setAttribute('stroke', '#222'); l.setAttribute('stroke-width', width);
  svg.appendChild(l);
  const p = document.createElementNS(NS, 'polygon');
  p.setAttribute('points', `${x1},${y1} ${bx - uy * hw},${by + ux * hw} ${bx + uy * hw},${by - ux * hw}`);
  p.setAttribute('fill', '#222');
  svg.appendChild(p);
}
arrow(520.7, 212.7, 501.7, 190.7, 1.1, 8);
arrow(661.7, 212.7, 604, 182.7, 1.1, 8);
arrow(663, 212.7, 660.3, 193.3, 1.1, 8);
arrow(725.3, 212.7, 726, 190.7, 1.1, 8);
arrow(522, 595, 510.7, 571.7, 0.7, 4.5);
arrow(617.3, 598.3, 586, 571.7, 0.7, 4.5);
arrow(656, 596.7, 663.3, 574.3, 0.7, 4.5);
arrow(687.3, 596.7, 746.7, 571.7, 0.7, 4.5);

const icon = document.createElementNS(NS, 'g');
icon.innerHTML = '<path d="M11 799 V817 M26 800 C15 803 14 814 27 817" fill="none" stroke="#dcdcdc" stroke-width="2"/>' +
  '<circle cx="32" cy="800" r="3" fill="none" stroke="#dcdcdc" stroke-width="1.2"/>' +
  '<circle cx="40" cy="800" r="3" fill="none" stroke="#dcdcdc" stroke-width="1.2"/>';
svg.appendChild(icon);

// ---- scatter plots ----
function scatterPlot(rect, xs, ys, fitX, fitY, showX) {
  const points = xs.map((x, i) => ({ x, y: ys[i] }));
  const fit = fitX.map((x, i) => ({ x, y: fitY[i] }));
  plotChart(rect, 30, showX ? 22 : 5, {
    type: 'scatter',
    data: {
      datasets: [
        { data: fit, showLine: true, borderColor: '#c1272d', borderWidth: 1.4, borderDash: [1.5, 2.2], pointRadius: 0, order: 1 },
        { data: points, backgroundColor: '#4a7db5', pointRadius: 1.25, pointBorderWidth: 0, order: 2 }
      ]
    },
    options: {
      scales: {
        x: {
          type: 'linear', min: 0, max: 1200,
          border: { display: false },
          grid: { drawOnChartArea: false, tickLength: 3, color: '#333' },
          ticks: { stepSize: 200, autoSkip: false, minRotation: showX ? 60 : 0, maxRotation: showX ? 60 : 0, padding: 0, font: tickFont(7.3), color: '#222', callback: v => (showX && v > 0 ? String(v) : '') }
        },
        y: {
          min: 0, max: 1200,
          border: { display: false },
          grid: { drawOnChartArea: false, tickLength: 3, color: '#333' },
          ticks: { stepSize: 200, autoSkip: false, padding: 1, font: tickFont(9.3), color: '#222', callback: v => String(v) }
        }
      }
    },
    plugins: [boxPlugin('#444', 1.5, false)]
  });
}

function r2(val, x, y) {
  txt(`<i>R</i><sup>2</sup>: ${val}`, x, y, { align: 'r', size: 9.6, weight: 'normal', family: '"DejaVu Sans"', color: '#555' });
}

scatterPlot({ x: 870, y: 65, w: 101, h: 95.7 }, fancfScatterPe, fancfScatterSp, fancfFitPeX, fancfFitPeY, false);
scatterPlot({ x: 870, y: 178.3, w: 101, h: 96.7 }, fancfScatterD10a, fancfScatterSp, fancfFitD10aX, fancfFitD10aY, false);
scatterPlot({ x: 870, y: 291.7, w: 101, h: 96 }, fancfScatterBoth, fancfScatterSp, fancfFitBothX, fancfFitBothY, true);
scatterPlot({ x: 868.3, y: 456.7, w: 101.7, h: 95.6 }, rnf2ScatterPe, rnf2ScatterSp, rnf2FitPeX, rnf2FitPeY, false);
scatterPlot({ x: 868.3, y: 570, w: 101.7, h: 95.7 }, rnf2ScatterD10a, rnf2ScatterSp, rnf2FitD10aX, rnf2FitD10aY, false);
scatterPlot({ x: 868.3, y: 683.3, w: 101.7, h: 95.7 }, rnf2ScatterBoth, rnf2ScatterSp, rnf2FitBothX, rnf2FitBothY, true);

txt('FANCF', 920.7, 49.3, { size: 12, italic: true });
txt('RNF2', 917.3, 442.7, { size: 12, italic: true });
txt('Prime Editor (counts)', 921.7, 169.3, { size: 10 });
txt('SpCas9<sup>D10A</sup> (counts)', 923.3, 283.5, { size: 10 });
txt('Prime Editor +', 920, 410, { size: 10 });
txt('SpCas9<sup>D10A</sup> (counts)', 921, 421, { size: 10 });
txt('Prime Editor (counts)', 921, 562.7, { size: 10 });
txt('SpCas9<sup>D10A</sup> (counts)', 922.7, 676.5, { size: 10 });
txt('Prime Editor +', 919.3, 802.7, { size: 10 });
txt('SpCas9<sup>D10A</sup> (counts)', 920.7, 813.5, { size: 10 });
txt('SpCas9 Read Count', 820.7, 227.3, { size: 11.7, rot: -90 });
txt('SpCas9 Read Count', 820.7, 619.3, { size: 11.7, rot: -90 });
r2('0.6846', 966.7, 150);
r2('0.5036', 968, 265);
r2('0.8261', 968, 379.3);
r2('0.5061', 966.7, 544.3);
r2('0.4939', 967.5, 657.3);
r2('0.8646', 966.7, 772.7);

// panel letters
[['A', 45, 35], ['B', 407.7, 35], ['C', 820, 35], ['D', 45, 427], ['E', 407.5, 427], ['F', 821, 427]]
  .forEach(([s, x, y]) => txt(s, x, y, { size: 17, color: '#111' }));

// watermark
txt('大数跨境', 88, 808, { size: 19.5, weight: 'normal', family: '"Noto Sans CJK SC"', color: '#f5f5f5', stroke: '0.6px #d8d8d8' });
</script>
</body>
</html>
